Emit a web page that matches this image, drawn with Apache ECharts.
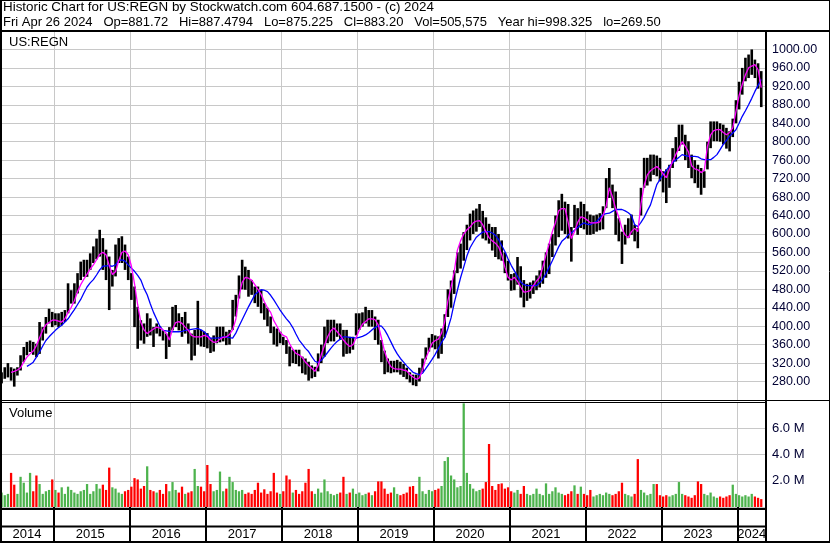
<!DOCTYPE html>
<html><head><meta charset="utf-8">
<script src="https://cdn.jsdelivr.net/npm/echarts/dist/echarts.min.js"></script>
<style>html,body{margin:0;padding:0;background:#fff}#c{width:830px;height:543px}</style>
</head><body><div id="c"></div>
<script>
// ---------------- DATA ----------------
const headerLine1 = 'Historic Chart for US:REGN by Stockwatch.com 604.687.1500 - (c) 2024';
const headerLine2 = 'Fri Apr 26 2024   Op=881.72   Hi=887.4794   Lo=875.225   Cl=883.20   Vol=505,575   Year hi=998.325   lo=269.50';
const symbolLabel = 'US:REGN';
const volumeLabel = 'Volume';
const yearLabels = ['2014','2015','2016','2017','2018','2019','2020','2021','2022','2023','2024'];
const priceAxis = [240, 1040, 40];      // min, max, step
const volumeAxis = [0, 8, 2];           // millions

// half-month periods: 2014-04 (2nd half) ... 2024-04 (2nd half), plus one empty period
const firstYear = 2014, firstMonth = 4, periodCount = 242;
const categories = [];
for (let h = 1; h <= periodCount; h++) {
  const off = (firstMonth - 1) + Math.floor(h / 2);
  const y = firstYear + Math.floor(off / 12);
  const m = off % 12 + 1;
  categories.push(y + '-' + String(m).padStart(2, '0') + '-' + (h % 2 ? '16' : '01'));
}

const highs = [
300,311,320,311,308,311,337,355,366,369,
366,362,409,398,420,438,431,428,428,431,
435,493,478,493,515,540,544,544,558,573,
590,609,591,566,551,522,577,591,595,577,
551,515,486,442,413,406,428,417,398,406,
400,391,384,398,442,446,428,420,431,406,
384,392,455,392,388,385,374,380,399,399,
399,388,392,457,468,510,544,529,522,500,
486,486,479,450,440,421,399,395,388,377,
370,356,349,349,349,334,330,323,315,312,
341,360,399,414,414,414,406,406,392,392,
377,377,428,428,430,442,435,435,421,414,
370,347,330,325,325,327,323,318,310,300,
295,295,310,330,354,375,383,380,378,395,
426,480,499,521,560,579,604,620,644,651,
655,665,650,636,622,615,615,600,586,560,
542,513,515,550,530,500,492,495,499,510,
521,542,560,579,600,640,673,687,670,665,
615,663,656,670,665,649,642,640,642,645,
660,721,743,707,692,634,605,620,634,642,
620,613,700,765,765,772,772,770,765,736,
740,750,786,810,837,837,815,801,772,760,
750,743,736,800,844,844,844,840,837,830,
823,850,890,930,960,982,989,1000,978,970,
953];

const lows = [
276,286,289,282,269,293,304,322,337,344,
338,333,340,369,384,406,398,402,398,402,
409,428,449,449,471,500,507,507,522,537,
545,551,522,500,435,486,508,537,537,522,
500,457,398,351,369,362,377,380,355,384,
378,369,329,355,391,398,391,377,384,362,
326,336,360,356,355,352,342,345,363,365,
367,359,360,392,421,460,480,479,464,468,
450,442,428,414,400,385,360,356,363,359,
340,313,320,318,313,298,295,282,287,290,
302,320,334,363,367,367,377,370,334,340,
341,349,380,392,399,406,399,399,370,360,
322,296,300,298,300,300,295,290,285,278,
272,270,280,300,328,345,354,350,330,340,
376,420,440,470,515,525,542,565,586,600,
605,615,590,586,579,564,550,545,542,515,
499,477,478,490,462,441,455,460,470,478,
484,492,505,513,550,575,593,607,600,590,
540,613,598,613,610,598,598,600,605,608,
610,656,678,656,598,584,535,577,591,598,
584,569,640,700,705,714,728,725,714,690,
667,700,743,757,780,794,760,743,721,710,
700,685,700,740,786,801,801,800,794,785,
779,810,840,870,902,931,938,945,938,915,
875];

// short moving average (magenta)
const maFast = [
null,null,null,300,302,305,310,322,333,340,
346,358,375,392,403,408,413,413,411,409,
416,430,441,455,475,490,502,513,524,533,
544,556,560,555,532,512,518,542,560,563,
555,531,492,446,408,392,384,389,394,398,
396,392,385,370,393,408,410,406,398,391,
380,377,377,377,380,378,370,365,366,372,
376,377,382,392,415,465,495,506,504,500,
490,480,469,453,440,430,412,400,387,380,
377,362,350,341,338,332,322,315,309,302,
315,338,358,377,390,396,388,380,370,362,
356,360,375,392,404,410,416,416,414,403,
375,345,325,312,308,307,307,305,303,295,
290,285,288,305,330,347,363,369,372,385,
410,455,485,518,565,585,600,609,615,624,
628,629,620,605,592,585,580,572,555,528,
506,500,506,497,485,474,475,477,488,498,
506,528,555,579,605,625,650,655,655,625,
590,605,625,637,635,630,624,624,624,626,
640,660,700,680,655,636,612,598,592,605,
612,605,665,705,728,737,742,746,740,730,
722,740,758,772,786,800,790,778,748,741,
739,733,738,790,815,824,826,826,820,815,
820,830,865,900,924,945,960,964,967,956,
917];

// long moving average (blue)
const maSlow = [
null,null,null,null,null,null,null,null,313,317,
322,333,344,357,369,377,384,391,397,402,
409,416,426,436,447,458,472,485,494,501,
511,522,530,531,531,530,533,542,544,541,
533,526,519,510,500,482,468,448,430,415,
400,391,390,389,388,388,388,389,391,392,
393,394,395,392,388,381,374,374,374,375,
377,377,375,374,385,400,414,428,442,455,
468,474,479,478,475,467,457,446,435,425,
416,408,397,383,370,361,352,345,334,324,
321,326,334,343,352,360,367,372,377,377,
376,375,374,376,378,381,386,392,397,401,
400,392,380,366,352,340,330,322,314,307,
300,297,295,298,308,318,328,339,352,365,
375,395,418,450,478,505,528,552,570,582,
593,599,604,605,605,602,597,588,575,562,
546,532,520,508,496,490,488,488,488,488,
494,502,514,528,542,557,572,584,590,598,
602,608,614,620,624,621,620,624,627,635,
642,644,645,649,653,653,653,650,646,640,
620,616,625,636,650,663,685,707,718,729,
738,747,754,761,766,772,770,768,768,768,
767,763,761,761,761,766,772,783,794,803,
812,819,826,840,855,867,880,894,909,922,
935];

// volume, millions of shares
const volumes = [
1.1,0.9,1.0,2.6,1.7,1.0,2.3,1.85,1.1,2.6,
1.2,2.4,1.75,1.0,1.2,1.3,2.1,1.3,1.1,1.5,
1.0,1.55,1.3,1.1,1.0,1.2,1.3,1.75,1.0,1.2,
1.75,1.4,1.7,1.3,3.0,1.5,1.4,1.1,1.0,1.2,
1.3,1.55,2.2,2.1,1.4,1.6,3.1,1.3,1.2,1.1,
1.3,1.0,1.75,1.2,1.9,1.3,1.1,1.55,1.0,1.1,
1.2,2.9,1.6,1.55,1.2,3.2,1.75,1.2,1.3,2.7,
1.2,1.4,2.3,1.9,1.3,1.2,1.3,1.0,1.1,1.0,
1.3,1.85,1.1,1.35,1.0,1.2,2.6,1.1,1.0,1.2,
2.4,2.1,1.1,1.3,1.0,1.2,1.85,2.9,1.2,1.0,
1.4,1.1,2.1,1.2,1.0,0.9,1.0,1.1,2.3,1.0,
1.1,1.4,1.0,1.1,0.9,1.0,1.1,0.9,1.2,1.95,
1.95,1.4,1.0,1.1,1.5,1.0,0.9,1.0,1.1,1.55,
1.6,1.0,2.3,1.2,1.0,1.3,1.2,1.3,1.4,1.6,
3.5,3.8,2.4,2.1,1.5,1.6,7.9,2.6,1.75,1.4,
1.2,1.3,1.4,1.9,4.8,1.6,1.3,1.75,1.8,1.4,
1.5,1.2,1.1,1.3,1.0,1.6,1.0,0.9,1.0,1.4,
1.0,0.9,1.8,1.0,1.2,1.5,1.1,1.0,0.9,1.0,
1.2,1.65,1.0,1.55,1.0,0.9,1.3,0.8,0.9,1.0,
0.9,1.1,1.0,0.9,1.0,1.2,1.85,1.0,0.9,0.8,
1.0,3.65,1.3,1.1,0.9,1.0,1.75,1.75,0.9,0.8,
0.9,0.8,0.9,1.0,1.9,1.0,0.9,0.8,0.7,0.9,
1.95,1.75,1.0,0.9,1.1,0.8,0.7,0.8,0.7,0.8,
0.9,1.7,1.0,0.9,0.8,0.9,0.8,1.0,0.8,0.7,
0.6];

// ---------------- CHART ----------------
const FONT = '"Liberation Sans", Arial, sans-serif';
const GRID_GRAY = '#c8c8c8';
const UP = '#4db34d', DOWN = '#ff0000';

const isYearStart = (i) => !!categories[i] && categories[i].slice(5) === '01-01';
const labelIdx = new Set(yearLabels.map(y => {
  const idx = [];
  categories.forEach((c, i) => { if (c.startsWith(y)) idx.push(i); });
  return Math.floor((idx[0] + idx[idx.length - 1]) / 2);
}));

const volData = volumes.map((v, i) => {
  const mid = (highs[i] + lows[i]) / 2;
  const prev = i > 0 ? (highs[i - 1] + lows[i - 1]) / 2 : mid;
  return { value: v, itemStyle: { color: mid >= prev ? UP : DOWN } };
});
const barData = highs.map((h, i) => [i, lows[i], h]);

const chart = echarts.init(document.getElementById('c'), null, { renderer: 'canvas' });

const lineSeg = (x1, y1, x2, y2, w) => ({
  type: 'line', silent: true, z: 100,
  shape: { x1, y1, x2, y2 }, style: { stroke: '#000', lineWidth: w }
});
const txt = (x, y, text, size) => ({
  type: 'text', silent: true, z: 100, x, y,
  style: { text, fontSize: size, fontFamily: FONT, fill: '#000', verticalAlign: 'middle', align: 'left' }
});

chart.setOption({
  animation: false,
  backgroundColor: '#fff',
  textStyle: { fontFamily: FONT },
  grid: [
    { left: 0, top: 31, width: 766, height: 369, outerBoundsMode: 'none', containLabel: false },
    { left: 0, top: 402, width: 766, height: 105, outerBoundsMode: 'none', containLabel: false }
  ],
  xAxis: [
    { type: 'category', gridIndex: 0, data: categories, boundaryGap: true,
      axisLine: { show: false }, axisTick: { show: false }, axisLabel: { show: false },
      splitLine: { show: true, interval: (i) => isYearStart(i), lineStyle: { color: GRID_GRAY, width: 1 } } },
    { type: 'category', gridIndex: 1, data: categories, boundaryGap: true,
      axisLine: { show: false },
      axisTick: { show: true, interval: (i) => isYearStart(i), length: 36, lineStyle: { color: '#000', width: 2 } },
      axisLabel: { show: true, interval: (i) => labelIdx.has(i), formatter: (v) => v.slice(0, 4),
        margin: 21, fontSize: 13, color: '#000', fontFamily: FONT },
      splitLine: { show: true, interval: (i) => isYearStart(i), lineStyle: { color: GRID_GRAY, width: 1 } } }
  ],
  yAxis: [
    { type: 'value', gridIndex: 0, position: 'right', min: priceAxis[0], max: priceAxis[1], interval: priceAxis[2],
      axisLine: { show: false }, axisTick: { show: false },
      axisLabel: { formatter: (v) => v.toFixed(2), showMinLabel: false, showMaxLabel: false, margin: 6,
        fontSize: 12.5, color: '#000033', fontFamily: FONT },
      splitLine: { show: true, lineStyle: { color: GRID_GRAY, width: 1 } } },
    { type: 'value', gridIndex: 1, position: 'right', min: volumeAxis[0], max: volumeAxis[1], interval: volumeAxis[2],
      axisLine: { show: false }, axisTick: { show: false },
      axisLabel: { formatter: (v) => v.toFixed(1) + ' M', showMinLabel: false, showMaxLabel: false, margin: 6,
        fontSize: 13, color: '#000033', fontFamily: FONT },
      splitLine: { show: true, lineStyle: { color: GRID_GRAY, width: 1 } } }
  ],
  series: [
    { type: 'custom', name: 'price', xAxisIndex: 0, yAxisIndex: 0, data: barData, z: 2,
      encode: { x: 0, y: [1, 2] },
      renderItem: (params, api) => {
        const i = api.value(0);
        const top = api.coord([i, api.value(2)]);
        const bot = api.coord([i, api.value(1)]);
        const w = api.size([1, 0])[0] * 0.82;
        return { type: 'rect', shape: { x: top[0] - w / 2, y: top[1], width: w, height: Math.max(1, bot[1] - top[1]) },
          style: { fill: '#000' } };
      } },
    { type: 'line', name: 'maSlow', xAxisIndex: 0, yAxisIndex: 0, data: maSlow, z: 3,
      showSymbol: false, symbol: 'none', lineStyle: { color: '#0000ff', width: 1.3 } },
    { type: 'line', name: 'maFast', xAxisIndex: 0, yAxisIndex: 0, data: maFast, z: 4,
      showSymbol: false, symbol: 'none', lineStyle: { color: '#ff00ff', width: 1.3 } },
    { type: 'bar', name: 'volume', xAxisIndex: 1, yAxisIndex: 1, data: volData, barWidth: '72%', z: 2 }
  ],
  graphic: [
    txt(3, 7, headerLine1, 13.4),
    txt(3, 22, headerLine2, 13),
    txt(9, 42, symbolLabel, 13),
    txt(9, 413, volumeLabel, 13),
    lineSeg(0, 0.5, 830, 0.5, 1),
    lineSeg(0, 31, 830, 31, 2),
    lineSeg(1, 0, 1, 543, 2),
    lineSeg(829.5, 0, 829.5, 543, 1),
    lineSeg(766, 31, 766, 543, 2),
    lineSeg(0, 400.5, 830, 400.5, 1),
    lineSeg(0, 402.5, 766, 402.5, 1),
    lineSeg(0, 509, 766, 509, 2),
    lineSeg(0, 526.5, 766, 526.5, 2),
    lineSeg(0, 542, 830, 542, 2)
  ]
});
</script>
</body></html>
